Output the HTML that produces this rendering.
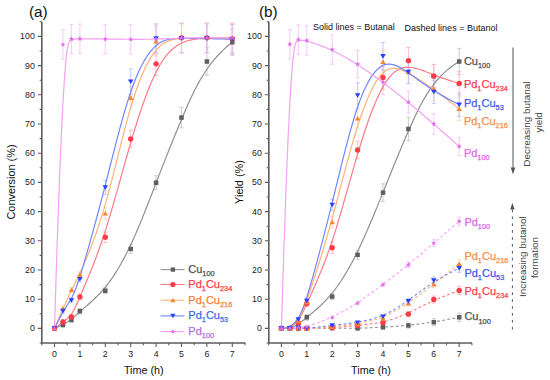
<!DOCTYPE html>
<html><head><meta charset="utf-8"><style>
html,body{margin:0;padding:0;background:#fff;width:550px;height:380px;overflow:hidden}
svg{display:block}
text{font-family:"Liberation Sans",sans-serif}
.tk{font-size:8.8px;fill:#222}
</style></head><body>
<svg width="550" height="380" viewBox="0 0 550 380">
<rect width="550" height="380" fill="#fff"/>
<path d="M41.80,21.80V343.00H245.40" stroke="#5c5c5c" stroke-width="1.6" fill="none"/>
<path d="M41.80,328.40h-4M41.80,299.20h-4M41.80,270.00h-4M41.80,240.80h-4M41.80,211.60h-4M41.80,182.40h-4M41.80,153.20h-4M41.80,124.00h-4M41.80,94.80h-4M41.80,65.60h-4M41.80,36.40h-4M41.80,343.00h-2.2M41.80,313.80h-2.2M41.80,284.60h-2.2M41.80,255.40h-2.2M41.80,226.20h-2.2M41.80,197.00h-2.2M41.80,167.80h-2.2M41.80,138.60h-2.2M41.80,109.40h-2.2M41.80,80.20h-2.2M41.80,51.00h-2.2M41.80,21.80h-2.2M54.50,343.00v4M79.90,343.00v4M105.30,343.00v4M130.70,343.00v4M156.10,343.00v4M181.50,343.00v4M206.90,343.00v4M232.30,343.00v4M41.80,343.00v2.2M67.20,343.00v2.2M92.60,343.00v2.2M118.00,343.00v2.2M143.40,343.00v2.2M168.80,343.00v2.2M194.20,343.00v2.2M219.60,343.00v2.2M245.00,343.00v2.2" stroke="#5c5c5c" stroke-width="1.1" fill="none"/>
<text x="34.80" y="331.30" class="tk" text-anchor="end">0</text>
<text x="34.80" y="302.10" class="tk" text-anchor="end">10</text>
<text x="34.80" y="272.90" class="tk" text-anchor="end">20</text>
<text x="34.80" y="243.70" class="tk" text-anchor="end">30</text>
<text x="34.80" y="214.50" class="tk" text-anchor="end">40</text>
<text x="34.80" y="185.30" class="tk" text-anchor="end">50</text>
<text x="34.80" y="156.10" class="tk" text-anchor="end">60</text>
<text x="34.80" y="126.90" class="tk" text-anchor="end">70</text>
<text x="34.80" y="97.70" class="tk" text-anchor="end">80</text>
<text x="34.80" y="68.50" class="tk" text-anchor="end">90</text>
<text x="34.80" y="39.30" class="tk" text-anchor="end">100</text>
<text x="54.50" y="356.80" class="tk" text-anchor="middle">0</text>
<text x="79.90" y="356.80" class="tk" text-anchor="middle">1</text>
<text x="105.30" y="356.80" class="tk" text-anchor="middle">2</text>
<text x="130.70" y="356.80" class="tk" text-anchor="middle">3</text>
<text x="156.10" y="356.80" class="tk" text-anchor="middle">4</text>
<text x="181.50" y="356.80" class="tk" text-anchor="middle">5</text>
<text x="206.90" y="356.80" class="tk" text-anchor="middle">6</text>
<text x="232.30" y="356.80" class="tk" text-anchor="middle">7</text>

<path d="M62.97,322.56V327.23M60.87,322.56h4.20M60.87,327.23h4.20" stroke="#c0c0c0" stroke-width="0.8" fill="none"/>
<path d="M71.43,317.60V322.27M69.33,317.60h4.20M69.33,322.27h4.20" stroke="#c0c0c0" stroke-width="0.8" fill="none"/>
<path d="M79.90,308.25V314.09M77.80,308.25h4.20M77.80,314.09h4.20" stroke="#c0c0c0" stroke-width="0.8" fill="none"/>
<path d="M105.30,287.81V293.65M103.20,287.81h4.20M103.20,293.65h4.20" stroke="#c0c0c0" stroke-width="0.8" fill="none"/>
<path d="M130.70,244.60V253.36M128.60,244.60h4.20M128.60,253.36h4.20" stroke="#c0c0c0" stroke-width="0.8" fill="none"/>
<path d="M156.10,175.68V189.70M154.00,175.68h4.20M154.00,189.70h4.20" stroke="#c0c0c0" stroke-width="0.8" fill="none"/>
<path d="M181.50,107.36V127.80M179.40,107.36h4.20M179.40,127.80h4.20" stroke="#c0c0c0" stroke-width="0.8" fill="none"/>
<path d="M206.90,47.79V75.24M204.80,47.79h4.20M204.80,75.24h4.20" stroke="#c0c0c0" stroke-width="0.8" fill="none"/>
<path d="M232.30,29.10V55.38M230.20,29.10h4.20M230.20,55.38h4.20" stroke="#c0c0c0" stroke-width="0.8" fill="none"/>

<path d="M62.97,319.64V324.31M60.87,319.64h4.20M60.87,324.31h4.20" stroke="#ffb0b8" stroke-width="0.8" fill="none"/>
<path d="M71.43,314.68V319.35M69.33,314.68h4.20M69.33,319.35h4.20" stroke="#ffb0b8" stroke-width="0.8" fill="none"/>
<path d="M79.90,293.94V299.78M77.80,293.94h4.20M77.80,299.78h4.20" stroke="#ffb0b8" stroke-width="0.8" fill="none"/>
<path d="M105.30,232.04V242.55M103.20,232.04h4.20M103.20,242.55h4.20" stroke="#ffb0b8" stroke-width="0.8" fill="none"/>
<path d="M130.70,130.13V147.65M128.60,130.13h4.20M128.60,147.65h4.20" stroke="#ffb0b8" stroke-width="0.8" fill="none"/>
<path d="M156.10,52.17V75.53M154.00,52.17h4.20M154.00,75.53h4.20" stroke="#ffb0b8" stroke-width="0.8" fill="none"/>
<path d="M181.50,23.26V52.46M179.40,23.26h4.20M179.40,52.46h4.20" stroke="#ffb0b8" stroke-width="0.8" fill="none"/>
<path d="M206.90,23.26V52.46M204.80,23.26h4.20M204.80,52.46h4.20" stroke="#ffb0b8" stroke-width="0.8" fill="none"/>
<path d="M232.30,24.14V53.34M230.20,24.14h4.20M230.20,53.34h4.20" stroke="#ffb0b8" stroke-width="0.8" fill="none"/>

<path d="M62.97,306.21V310.88M60.87,306.21h4.20M60.87,310.88h4.20" stroke="#ffcfae" stroke-width="0.8" fill="none"/>
<path d="M71.43,287.52V292.19M69.33,287.52h4.20M69.33,292.19h4.20" stroke="#ffcfae" stroke-width="0.8" fill="none"/>
<path d="M79.90,271.75V277.59M77.80,271.75h4.20M77.80,277.59h4.20" stroke="#ffcfae" stroke-width="0.8" fill="none"/>
<path d="M105.30,207.80V218.90M103.20,207.80h4.20M103.20,218.90h4.20" stroke="#ffcfae" stroke-width="0.8" fill="none"/>
<path d="M130.70,86.62V108.82M128.60,86.62h4.20M128.60,108.82h4.20" stroke="#ffcfae" stroke-width="0.8" fill="none"/>
<path d="M156.10,26.76V55.96M154.00,26.76h4.20M154.00,55.96h4.20" stroke="#ffcfae" stroke-width="0.8" fill="none"/>
<path d="M181.50,23.26V52.46M179.40,23.26h4.20M179.40,52.46h4.20" stroke="#ffcfae" stroke-width="0.8" fill="none"/>
<path d="M206.90,23.26V52.46M204.80,23.26h4.20M204.80,52.46h4.20" stroke="#ffcfae" stroke-width="0.8" fill="none"/>
<path d="M232.30,23.26V52.46M230.20,23.26h4.20M230.20,52.46h4.20" stroke="#ffcfae" stroke-width="0.8" fill="none"/>

<path d="M62.97,308.54V313.22M60.87,308.54h4.20M60.87,313.22h4.20" stroke="#b0bcff" stroke-width="0.8" fill="none"/>
<path d="M71.43,298.03V302.70M69.33,298.03h4.20M69.33,302.70h4.20" stroke="#b0bcff" stroke-width="0.8" fill="none"/>
<path d="M79.90,276.13V281.97M77.80,276.13h4.20M77.80,281.97h4.20" stroke="#b0bcff" stroke-width="0.8" fill="none"/>
<path d="M105.30,180.36V194.37M103.20,180.36h4.20M103.20,194.37h4.20" stroke="#b0bcff" stroke-width="0.8" fill="none"/>
<path d="M130.70,68.81V94.51M128.60,68.81h4.20M128.60,94.51h4.20" stroke="#b0bcff" stroke-width="0.8" fill="none"/>
<path d="M156.10,23.84V53.04M154.00,23.84h4.20M154.00,53.04h4.20" stroke="#b0bcff" stroke-width="0.8" fill="none"/>
<path d="M181.50,23.84V53.04M179.40,23.84h4.20M179.40,53.04h4.20" stroke="#b0bcff" stroke-width="0.8" fill="none"/>
<path d="M206.90,23.84V53.04M204.80,23.84h4.20M204.80,53.04h4.20" stroke="#b0bcff" stroke-width="0.8" fill="none"/>
<path d="M232.30,24.72V53.92M230.20,24.72h4.20M230.20,53.92h4.20" stroke="#b0bcff" stroke-width="0.8" fill="none"/>

<path d="M62.97,29.98V59.18M60.87,29.98h4.20M60.87,59.18h4.20" stroke="#f5bcf8" stroke-width="0.8" fill="none"/>
<path d="M71.43,24.43V53.63M69.33,24.43h4.20M69.33,53.63h4.20" stroke="#f5bcf8" stroke-width="0.8" fill="none"/>
<path d="M79.90,24.14V53.34M77.80,24.14h4.20M77.80,53.34h4.20" stroke="#f5bcf8" stroke-width="0.8" fill="none"/>
<path d="M105.30,24.43V53.63M103.20,24.43h4.20M103.20,53.63h4.20" stroke="#f5bcf8" stroke-width="0.8" fill="none"/>
<path d="M130.70,24.72V53.92M128.60,24.72h4.20M128.60,53.92h4.20" stroke="#f5bcf8" stroke-width="0.8" fill="none"/>
<path d="M156.10,24.72V53.92M154.00,24.72h4.20M154.00,53.92h4.20" stroke="#f5bcf8" stroke-width="0.8" fill="none"/>
<path d="M181.50,23.26V52.46M179.40,23.26h4.20M179.40,52.46h4.20" stroke="#f5bcf8" stroke-width="0.8" fill="none"/>
<path d="M206.90,23.26V52.46M204.80,23.26h4.20M204.80,52.46h4.20" stroke="#f5bcf8" stroke-width="0.8" fill="none"/>
<path d="M232.30,23.26V52.46M230.20,23.26h4.20M230.20,52.46h4.20" stroke="#f5bcf8" stroke-width="0.8" fill="none"/>
<path d="M54.50,328.40 L56.08,327.74 L57.56,327.10 L58.95,326.48 L60.25,325.88 L61.46,325.30 L62.60,324.73 L63.67,324.18 L64.68,323.64 L65.62,323.11 L66.51,322.58 L67.35,322.07 L68.15,321.55 L68.91,321.04 L69.63,320.53 L70.34,320.01 L71.02,319.49 L71.68,318.96 L72.34,318.43 L72.99,317.88 L73.65,317.32 L74.31,316.74 L74.98,316.13 L75.68,315.51 L76.40,314.86 L77.14,314.18 L77.93,313.47 L78.75,312.73 L79.62,311.95 L80.54,311.13 L81.52,310.27 L82.57,309.36 L83.68,308.40 L84.86,307.40 L86.10,306.34 L87.39,305.23 L88.74,304.05 L90.14,302.82 L91.58,301.53 L93.06,300.17 L94.57,298.74 L96.12,297.24 L97.69,295.66 L99.28,294.01 L100.89,292.28 L102.51,290.48 L104.14,288.58 L105.77,286.61 L107.40,284.54 L109.03,282.38 L110.66,280.14 L112.29,277.80 L113.92,275.37 L115.55,272.85 L117.18,270.24 L118.82,267.53 L120.45,264.73 L122.08,261.83 L123.71,258.84 L125.34,255.75 L126.97,252.55 L128.60,249.27 L130.23,245.88 L131.87,242.38 L133.50,238.80 L135.13,235.12 L136.76,231.36 L138.39,227.53 L140.02,223.62 L141.65,219.66 L143.28,215.64 L144.91,211.57 L146.55,207.45 L148.18,203.31 L149.81,199.13 L151.44,194.93 L153.07,190.72 L154.70,186.50 L156.33,182.28 L157.97,178.07 L159.60,173.85 L161.24,169.62 L162.90,165.38 L164.57,161.13 L166.25,156.85 L167.96,152.55 L169.69,148.21 L171.44,143.83 L173.23,139.41 L175.05,134.94 L176.91,130.42 L178.81,125.83 L180.76,121.18 L182.75,116.46 L184.79,111.66 L186.90,106.80 L189.08,101.89 L191.36,96.95 L193.75,91.99 L196.27,87.05 L198.94,82.13 L201.77,77.26 L204.78,72.46 L207.99,67.74 L211.41,63.12 L215.06,58.62 L218.96,54.27 L223.12,50.07 L227.56,46.06 L232.30,42.24" stroke="#909090" stroke-width="1.2" fill="none"/>
<path d="M54.50,328.40 L56.08,327.21 L57.56,326.11 L58.95,325.08 L60.25,324.13 L61.46,323.23 L62.60,322.38 L63.67,321.58 L64.68,320.80 L65.62,320.04 L66.51,319.30 L67.35,318.55 L68.15,317.80 L68.91,317.03 L69.63,316.23 L70.34,315.39 L71.02,314.51 L71.68,313.57 L72.34,312.57 L72.99,311.50 L73.65,310.35 L74.31,309.12 L74.98,307.80 L75.68,306.38 L76.40,304.86 L77.14,303.22 L77.93,301.47 L78.75,299.59 L79.62,297.57 L80.54,295.42 L81.52,293.11 L82.57,290.66 L83.68,288.04 L84.86,285.26 L86.10,282.32 L87.39,279.21 L88.74,275.95 L90.14,272.52 L91.58,268.93 L93.06,265.18 L94.57,261.26 L96.12,257.19 L97.69,252.95 L99.28,248.56 L100.89,244.00 L102.51,239.28 L104.14,234.41 L105.77,229.37 L107.40,224.18 L109.03,218.84 L110.66,213.39 L112.29,207.83 L113.92,202.18 L115.55,196.46 L117.18,190.68 L118.82,184.86 L120.45,179.01 L122.08,173.16 L123.71,167.32 L125.34,161.51 L126.97,155.73 L128.60,150.02 L130.23,144.38 L131.87,138.83 L133.50,133.39 L135.13,128.05 L136.76,122.82 L138.39,117.72 L140.02,112.74 L141.65,107.91 L143.28,103.21 L144.91,98.66 L146.55,94.27 L148.18,90.04 L149.81,85.98 L151.44,82.09 L153.07,78.39 L154.70,74.88 L156.33,71.56 L157.97,68.45 L159.60,65.53 L161.24,62.80 L162.90,60.25 L164.57,57.88 L166.25,55.68 L167.96,53.64 L169.69,51.77 L171.44,50.04 L173.23,48.46 L175.05,47.03 L176.91,45.72 L178.81,44.55 L180.76,43.50 L182.75,42.56 L184.79,41.73 L186.90,41.01 L189.08,40.38 L191.36,39.85 L193.75,39.41 L196.27,39.05 L198.94,38.76 L201.77,38.55 L204.78,38.40 L207.99,38.31 L211.41,38.28 L215.06,38.29 L218.96,38.35 L223.12,38.45 L227.56,38.58 L232.30,38.74" stroke="#ff7a88" stroke-width="1.2" fill="none"/>
<path d="M54.50,328.40 L56.08,324.70 L57.56,321.25 L58.95,318.03 L60.25,315.04 L61.46,312.25 L62.60,309.65 L63.67,307.23 L64.68,304.99 L65.62,302.89 L66.51,300.93 L67.35,299.11 L68.15,297.39 L68.91,295.78 L69.63,294.25 L70.34,292.80 L71.02,291.41 L71.68,290.06 L72.34,288.75 L72.99,287.45 L73.65,286.15 L74.31,284.83 L74.98,283.48 L75.68,282.08 L76.40,280.62 L77.14,279.09 L77.93,277.45 L78.75,275.71 L79.62,273.84 L80.54,271.84 L81.52,269.67 L82.57,267.33 L83.68,264.81 L84.86,262.09 L86.10,259.18 L87.39,256.07 L88.74,252.77 L90.14,249.26 L91.58,245.55 L93.06,241.63 L94.57,237.51 L96.12,233.18 L97.69,228.64 L99.28,223.88 L100.89,218.90 L102.51,213.71 L104.14,208.30 L105.77,202.67 L107.40,196.82 L109.03,190.79 L110.66,184.60 L112.29,178.29 L113.92,171.88 L115.55,165.41 L117.18,158.90 L118.82,152.38 L120.45,145.90 L122.08,139.46 L123.71,133.12 L125.34,126.89 L126.97,120.80 L128.60,114.89 L130.23,109.19 L131.87,103.72 L133.50,98.49 L135.13,93.50 L136.76,88.76 L138.39,84.25 L140.02,79.98 L141.65,75.94 L143.28,72.14 L144.91,68.57 L146.55,65.23 L148.18,62.11 L149.81,59.22 L151.44,56.56 L153.07,54.12 L154.70,51.90 L156.33,49.90 L157.97,48.12 L159.60,46.53 L161.24,45.14 L162.90,43.93 L164.57,42.87 L166.25,41.97 L167.96,41.21 L169.69,40.57 L171.44,40.04 L173.23,39.62 L175.05,39.27 L176.91,39.00 L178.81,38.79 L180.76,38.63 L182.75,38.49 L184.79,38.38 L186.90,38.28 L189.08,38.20 L191.36,38.13 L193.75,38.07 L196.27,38.01 L198.94,37.97 L201.77,37.94 L204.78,37.91 L207.99,37.89 L211.41,37.88 L215.06,37.87 L218.96,37.86 L223.12,37.86 L227.56,37.86 L232.30,37.86" stroke="#ffb27a" stroke-width="1.2" fill="none"/>
<path d="M54.50,328.40 L56.08,325.17 L57.56,322.23 L58.95,319.55 L60.25,317.10 L61.46,314.88 L62.60,312.86 L63.67,311.01 L64.68,309.32 L65.62,307.77 L66.51,306.33 L67.35,304.98 L68.15,303.71 L68.91,302.49 L69.63,301.30 L70.34,300.12 L71.02,298.93 L71.68,297.71 L72.34,296.44 L72.99,295.11 L73.65,293.70 L74.31,292.18 L74.98,290.56 L75.68,288.79 L76.40,286.88 L77.14,284.80 L77.93,282.54 L78.75,280.07 L79.62,277.38 L80.54,274.46 L81.52,271.29 L82.57,267.84 L83.68,264.11 L84.86,260.10 L86.10,255.83 L87.39,251.31 L88.74,246.56 L90.14,241.59 L91.58,236.42 L93.06,231.06 L94.57,225.53 L96.12,219.84 L97.69,214.01 L99.28,208.04 L100.89,201.97 L102.51,195.80 L104.14,189.54 L105.77,183.21 L107.40,176.84 L109.03,170.43 L110.66,164.01 L112.29,157.60 L113.92,151.22 L115.55,144.88 L117.18,138.62 L118.82,132.45 L120.45,126.38 L122.08,120.45 L123.71,114.67 L125.34,109.06 L126.97,103.64 L128.60,98.43 L130.23,93.45 L131.87,88.72 L133.50,84.25 L135.13,80.03 L136.76,76.05 L138.39,72.31 L140.02,68.80 L141.65,65.52 L143.28,62.46 L144.91,59.63 L146.55,57.00 L148.18,54.59 L149.81,52.37 L151.44,50.36 L153.07,48.54 L154.70,46.90 L156.33,45.45 L157.97,44.17 L159.60,43.06 L161.24,42.11 L162.90,41.29 L164.57,40.61 L166.25,40.04 L167.96,39.59 L169.69,39.23 L171.44,38.95 L173.23,38.75 L175.05,38.61 L176.91,38.52 L178.81,38.47 L180.76,38.45 L182.75,38.44 L184.79,38.44 L186.90,38.44 L189.08,38.45 L191.36,38.45 L193.75,38.47 L196.27,38.48 L198.94,38.51 L201.77,38.54 L204.78,38.59 L207.99,38.65 L211.41,38.72 L215.06,38.80 L218.96,38.90 L223.12,39.02 L227.56,39.16 L232.30,39.32" stroke="#7186ff" stroke-width="1.2" fill="none"/>
<path d="M54.50,328.40 L56.08,277.12 L57.56,232.35 L58.95,193.65 L60.25,160.57 L61.46,132.66 L62.60,109.49 L63.67,90.61 L64.68,75.57 L65.62,63.92 L66.51,55.23 L67.35,49.05 L68.15,44.94 L68.91,42.45 L69.63,41.13 L70.34,40.54 L71.02,40.25 L71.68,40.00 L72.34,39.79 L72.99,39.60 L73.65,39.44 L74.31,39.30 L74.98,39.19 L75.68,39.09 L76.40,39.01 L77.14,38.95 L77.93,38.91 L78.75,38.88 L79.62,38.86 L80.54,38.84 L81.52,38.84 L82.57,38.83 L83.68,38.83 L84.86,38.84 L86.10,38.84 L87.39,38.85 L88.74,38.86 L90.14,38.87 L91.58,38.88 L93.06,38.90 L94.57,38.91 L96.12,38.93 L97.69,38.94 L99.28,38.96 L100.89,38.98 L102.51,39.00 L104.14,39.01 L105.77,39.03 L107.40,39.05 L109.03,39.07 L110.66,39.09 L112.29,39.11 L113.92,39.13 L115.55,39.14 L117.18,39.16 L118.82,39.18 L120.45,39.19 L122.08,39.21 L123.71,39.22 L125.34,39.23 L126.97,39.25 L128.60,39.26 L130.23,39.27 L131.87,39.28 L133.50,39.29 L135.13,39.29 L136.76,39.30 L138.39,39.30 L140.02,39.30 L141.65,39.29 L143.28,39.28 L144.91,39.27 L146.55,39.26 L148.18,39.24 L149.81,39.22 L151.44,39.19 L153.07,39.15 L154.70,39.11 L156.33,39.07 L157.97,39.02 L159.60,38.96 L161.24,38.90 L162.90,38.84 L164.57,38.77 L166.25,38.70 L167.96,38.64 L169.69,38.56 L171.44,38.49 L173.23,38.43 L175.05,38.36 L176.91,38.29 L178.81,38.23 L180.76,38.18 L182.75,38.12 L184.79,38.08 L186.90,38.04 L189.08,38.00 L191.36,37.97 L193.75,37.95 L196.27,37.92 L198.94,37.91 L201.77,37.89 L204.78,37.88 L207.99,37.87 L211.41,37.87 L215.06,37.86 L218.96,37.86 L223.12,37.86 L227.56,37.86 L232.30,37.86" stroke="#f4a0f6" stroke-width="1.2" fill="none"/>
<rect x="52.25" y="326.15" width="4.50" height="4.50" fill="#5e5e5e"/>
<rect x="60.72" y="322.65" width="4.50" height="4.50" fill="#5e5e5e"/>
<rect x="69.18" y="317.68" width="4.50" height="4.50" fill="#5e5e5e"/>
<rect x="77.65" y="308.92" width="4.50" height="4.50" fill="#5e5e5e"/>
<rect x="103.05" y="288.48" width="4.50" height="4.50" fill="#5e5e5e"/>
<rect x="128.45" y="246.73" width="4.50" height="4.50" fill="#5e5e5e"/>
<rect x="153.85" y="180.44" width="4.50" height="4.50" fill="#5e5e5e"/>
<rect x="179.25" y="115.33" width="4.50" height="4.50" fill="#5e5e5e"/>
<rect x="204.65" y="59.26" width="4.50" height="4.50" fill="#5e5e5e"/>
<rect x="230.05" y="39.99" width="4.50" height="4.50" fill="#5e5e5e"/>
<circle cx="54.50" cy="328.40" r="2.70" fill="#ff3b48"/>
<circle cx="62.97" cy="321.98" r="2.70" fill="#ff3b48"/>
<circle cx="71.43" cy="317.01" r="2.70" fill="#ff3b48"/>
<circle cx="79.90" cy="296.86" r="2.70" fill="#ff3b48"/>
<circle cx="105.30" cy="237.30" r="2.70" fill="#ff3b48"/>
<circle cx="130.70" cy="138.89" r="2.70" fill="#ff3b48"/>
<circle cx="156.10" cy="63.85" r="2.70" fill="#ff3b48"/>
<circle cx="181.50" cy="37.86" r="2.70" fill="#ff3b48"/>
<circle cx="206.90" cy="37.86" r="2.70" fill="#ff3b48"/>
<circle cx="232.30" cy="38.74" r="2.70" fill="#ff3b48"/>
<path d="M54.50,326.00 L57.30,330.56 L51.70,330.56Z" fill="#f7872e"/>
<path d="M62.97,306.14 L65.77,310.70 L60.17,310.70Z" fill="#f7872e"/>
<path d="M71.43,287.46 L74.23,292.02 L68.63,292.02Z" fill="#f7872e"/>
<path d="M79.90,272.27 L82.70,276.83 L77.10,276.83Z" fill="#f7872e"/>
<path d="M105.30,210.95 L108.10,215.51 L102.50,215.51Z" fill="#f7872e"/>
<path d="M130.70,95.32 L133.50,99.88 L127.90,99.88Z" fill="#f7872e"/>
<path d="M156.10,38.96 L158.90,43.52 L153.30,43.52Z" fill="#f7872e"/>
<path d="M181.50,35.46 L184.30,40.02 L178.70,40.02Z" fill="#f7872e"/>
<path d="M206.90,35.46 L209.70,40.02 L204.10,40.02Z" fill="#f7872e"/>
<path d="M232.30,35.46 L235.10,40.02 L229.50,40.02Z" fill="#f7872e"/>
<path d="M54.50,330.80 L57.30,326.24 L51.70,326.24Z" fill="#2a40fa"/>
<path d="M62.97,313.28 L65.77,308.72 L60.17,308.72Z" fill="#2a40fa"/>
<path d="M71.43,302.77 L74.23,298.21 L68.63,298.21Z" fill="#2a40fa"/>
<path d="M79.90,281.45 L82.70,276.89 L77.10,276.89Z" fill="#2a40fa"/>
<path d="M105.30,189.76 L108.10,185.20 L102.50,185.20Z" fill="#2a40fa"/>
<path d="M130.70,84.06 L133.50,79.50 L127.90,79.50Z" fill="#2a40fa"/>
<path d="M156.10,40.84 L158.90,36.28 L153.30,36.28Z" fill="#2a40fa"/>
<path d="M181.50,40.84 L184.30,36.28 L178.70,36.28Z" fill="#2a40fa"/>
<path d="M206.90,40.84 L209.70,36.28 L204.10,36.28Z" fill="#2a40fa"/>
<path d="M232.30,41.72 L235.10,37.16 L229.50,37.16Z" fill="#2a40fa"/>
<polygon points="54.50,325.70 55.18,327.47 57.07,327.57 55.59,328.76 56.09,330.58 54.50,329.55 52.91,330.58 53.41,328.76 51.93,327.57 53.82,327.47" fill="#e468f0"/>
<polygon points="62.97,41.88 63.64,43.65 65.53,43.74 64.06,44.93 64.55,46.76 62.97,45.73 61.38,46.76 61.87,44.93 60.40,43.74 62.29,43.65" fill="#e468f0"/>
<polygon points="71.43,36.33 72.11,38.10 74.00,38.19 72.53,39.38 73.02,41.21 71.43,40.18 69.85,41.21 70.34,39.38 68.87,38.19 70.76,38.10" fill="#e468f0"/>
<polygon points="79.90,36.04 80.58,37.81 82.47,37.90 80.99,39.09 81.49,40.92 79.90,39.89 78.31,40.92 78.81,39.09 77.33,37.90 79.22,37.81" fill="#e468f0"/>
<polygon points="105.30,36.33 105.98,38.10 107.87,38.19 106.39,39.38 106.89,41.21 105.30,40.18 103.71,41.21 104.21,39.38 102.73,38.19 104.62,38.10" fill="#e468f0"/>
<polygon points="130.70,36.62 131.38,38.39 133.27,38.49 131.79,39.68 132.29,41.50 130.70,40.47 129.11,41.50 129.61,39.68 128.13,38.49 130.02,38.39" fill="#e468f0"/>
<polygon points="156.10,36.62 156.78,38.39 158.67,38.49 157.19,39.68 157.69,41.50 156.10,40.47 154.51,41.50 155.01,39.68 153.53,38.49 155.42,38.39" fill="#e468f0"/>
<polygon points="181.50,35.16 182.18,36.93 184.07,37.03 182.59,38.22 183.09,40.04 181.50,39.01 179.91,40.04 180.41,38.22 178.93,37.03 180.82,36.93" fill="#e468f0"/>
<polygon points="206.90,35.16 207.58,36.93 209.47,37.03 207.99,38.22 208.49,40.04 206.90,39.01 205.31,40.04 205.81,38.22 204.33,37.03 206.22,36.93" fill="#e468f0"/>
<polygon points="232.30,35.16 232.98,36.93 234.87,37.03 233.39,38.22 233.89,40.04 232.30,39.01 230.71,40.04 231.21,38.22 229.73,37.03 231.62,36.93" fill="#e468f0"/>
<path d="M160.6,269.60H184.5" stroke="#909090" stroke-width="1.1"/>
<rect x="170.76" y="267.46" width="4.27" height="4.27" fill="#5e5e5e"/>
<text x="188.30" y="272.90" fill="#505050" stroke="#505050" stroke-width="0.25" font-size="11"><tspan dy="0">Cu</tspan><tspan font-size="7.4" dy="3.2">100</tspan></text>
<path d="M160.6,284.50H184.5" stroke="#ff7a88" stroke-width="1.1"/>
<circle cx="172.90" cy="284.50" r="2.56" fill="#ff3b48"/>
<text x="188.30" y="287.80" fill="#ff3b48" stroke="#ff3b48" stroke-width="0.25" font-size="11"><tspan dy="0">Pd</tspan><tspan font-size="7.4" dy="3.2">1</tspan><tspan dy="-3.2">Cu</tspan><tspan font-size="7.4" dy="3.2">234</tspan></text>
<path d="M160.6,300.20H184.5" stroke="#ffb27a" stroke-width="1.1"/>
<path d="M172.90,297.92 L175.56,302.25 L170.24,302.25Z" fill="#f7872e"/>
<text x="188.30" y="303.50" fill="#f5803a" stroke="#f5803a" stroke-width="0.25" font-size="11"><tspan dy="0">Pd</tspan><tspan font-size="7.4" dy="3.2">1</tspan><tspan dy="-3.2">Cu</tspan><tspan font-size="7.4" dy="3.2">216</tspan></text>
<path d="M160.6,315.90H184.5" stroke="#7186ff" stroke-width="1.1"/>
<path d="M172.90,318.18 L175.56,313.85 L170.24,313.85Z" fill="#2a40fa"/>
<text x="188.30" y="319.20" fill="#3a6ee8" stroke="#3a6ee8" stroke-width="0.25" font-size="11"><tspan dy="0">Pd</tspan><tspan font-size="7.4" dy="3.2">1</tspan><tspan dy="-3.2">Cu</tspan><tspan font-size="7.4" dy="3.2">53</tspan></text>
<path d="M160.6,331.60H184.5" stroke="#f4a0f6" stroke-width="1.1"/>
<polygon points="172.90,329.04 173.54,330.72 175.34,330.81 173.94,331.94 174.41,333.68 172.90,332.69 171.39,333.68 171.86,331.94 170.46,330.81 172.26,330.72" fill="#e468f0"/>
<text x="188.30" y="334.90" fill="#b46edc" stroke="#b46edc" stroke-width="0.25" font-size="11"><tspan dy="0">Pd</tspan><tspan font-size="7.4" dy="3.2">100</tspan></text>
<path d="M268.80,21.80V343.00H472.00" stroke="#5c5c5c" stroke-width="1.6" fill="none"/>
<path d="M268.80,328.40h-4M268.80,299.20h-4M268.80,270.00h-4M268.80,240.80h-4M268.80,211.60h-4M268.80,182.40h-4M268.80,153.20h-4M268.80,124.00h-4M268.80,94.80h-4M268.80,65.60h-4M268.80,36.40h-4M268.80,343.00h-2.2M268.80,313.80h-2.2M268.80,284.60h-2.2M268.80,255.40h-2.2M268.80,226.20h-2.2M268.80,197.00h-2.2M268.80,167.80h-2.2M268.80,138.60h-2.2M268.80,109.40h-2.2M268.80,80.20h-2.2M268.80,51.00h-2.2M268.80,21.80h-2.2M281.40,343.00v4M306.80,343.00v4M332.20,343.00v4M357.60,343.00v4M383.00,343.00v4M408.40,343.00v4M433.80,343.00v4M459.20,343.00v4M268.70,343.00v2.2M294.10,343.00v2.2M319.50,343.00v2.2M344.90,343.00v2.2M370.30,343.00v2.2M395.70,343.00v2.2M421.10,343.00v2.2M446.50,343.00v2.2M471.90,343.00v2.2" stroke="#5c5c5c" stroke-width="1.1" fill="none"/>
<text x="261.80" y="331.30" class="tk" text-anchor="end">0</text>
<text x="261.80" y="302.10" class="tk" text-anchor="end">10</text>
<text x="261.80" y="272.90" class="tk" text-anchor="end">20</text>
<text x="261.80" y="243.70" class="tk" text-anchor="end">30</text>
<text x="261.80" y="214.50" class="tk" text-anchor="end">40</text>
<text x="261.80" y="185.30" class="tk" text-anchor="end">50</text>
<text x="261.80" y="156.10" class="tk" text-anchor="end">60</text>
<text x="261.80" y="126.90" class="tk" text-anchor="end">70</text>
<text x="261.80" y="97.70" class="tk" text-anchor="end">80</text>
<text x="261.80" y="68.50" class="tk" text-anchor="end">90</text>
<text x="261.80" y="39.30" class="tk" text-anchor="end">100</text>
<text x="281.40" y="356.80" class="tk" text-anchor="middle">0</text>
<text x="306.80" y="356.80" class="tk" text-anchor="middle">1</text>
<text x="332.20" y="356.80" class="tk" text-anchor="middle">2</text>
<text x="357.60" y="356.80" class="tk" text-anchor="middle">3</text>
<text x="383.00" y="356.80" class="tk" text-anchor="middle">4</text>
<text x="408.40" y="356.80" class="tk" text-anchor="middle">5</text>
<text x="433.80" y="356.80" class="tk" text-anchor="middle">6</text>
<text x="459.20" y="356.80" class="tk" text-anchor="middle">7</text>






<path d="M383.00,325.48V328.98M380.90,325.48h4.20M380.90,328.98h4.20" stroke="#c0c0c0" stroke-width="0.8" fill="none"/>
<path d="M408.40,322.85V328.11M406.30,322.85h4.20M406.30,328.11h4.20" stroke="#c0c0c0" stroke-width="0.8" fill="none"/>
<path d="M433.80,318.76V325.77M431.70,318.76h4.20M431.70,325.77h4.20" stroke="#c0c0c0" stroke-width="0.8" fill="none"/>
<path d="M459.20,313.22V321.39M457.10,313.22h4.20M457.10,321.39h4.20" stroke="#c0c0c0" stroke-width="0.8" fill="none"/>






<path d="M383.00,321.10V324.60M380.90,321.10h4.20M380.90,324.60h4.20" stroke="#ffb0b8" stroke-width="0.8" fill="none"/>
<path d="M408.40,311.46V316.72M406.30,311.46h4.20M406.30,316.72h4.20" stroke="#ffb0b8" stroke-width="0.8" fill="none"/>
<path d="M433.80,295.99V303.00M431.70,295.99h4.20M431.70,303.00h4.20" stroke="#ffb0b8" stroke-width="0.8" fill="none"/>
<path d="M459.20,286.35V294.53M457.10,286.35h4.20M457.10,294.53h4.20" stroke="#ffb0b8" stroke-width="0.8" fill="none"/>






<path d="M383.00,316.72V320.22M380.90,316.72h4.20M380.90,320.22h4.20" stroke="#ffcfae" stroke-width="0.8" fill="none"/>
<path d="M408.40,300.66V305.92M406.30,300.66h4.20M406.30,305.92h4.20" stroke="#ffcfae" stroke-width="0.8" fill="none"/>
<path d="M433.80,280.80V287.81M431.70,280.80h4.20M431.70,287.81h4.20" stroke="#ffcfae" stroke-width="0.8" fill="none"/>
<path d="M459.20,259.78V267.96M457.10,259.78h4.20M457.10,267.96h4.20" stroke="#ffcfae" stroke-width="0.8" fill="none"/>






<path d="M383.00,314.97V318.47M380.90,314.97h4.20M380.90,318.47h4.20" stroke="#b0bcff" stroke-width="0.8" fill="none"/>
<path d="M408.40,298.62V303.87M406.30,298.62h4.20M406.30,303.87h4.20" stroke="#b0bcff" stroke-width="0.8" fill="none"/>
<path d="M433.80,277.01V284.02M431.70,277.01h4.20M431.70,284.02h4.20" stroke="#b0bcff" stroke-width="0.8" fill="none"/>
<path d="M459.20,264.16V272.34M457.10,264.16h4.20M457.10,272.34h4.20" stroke="#b0bcff" stroke-width="0.8" fill="none"/>






<path d="M383.00,282.85V286.35M380.90,282.85h4.20M380.90,286.35h4.20" stroke="#f5bcf8" stroke-width="0.8" fill="none"/>
<path d="M408.40,262.12V267.37M406.30,262.12h4.20M406.30,267.37h4.20" stroke="#f5bcf8" stroke-width="0.8" fill="none"/>
<path d="M433.80,239.63V246.64M431.70,239.63h4.20M431.70,246.64h4.20" stroke="#f5bcf8" stroke-width="0.8" fill="none"/>
<path d="M459.20,217.15V225.32M457.10,217.15h4.20M457.10,225.32h4.20" stroke="#f5bcf8" stroke-width="0.8" fill="none"/>


<path d="M298.33,323.14V326.06M296.23,323.14h4.20M296.23,326.06h4.20" stroke="#c0c0c0" stroke-width="0.8" fill="none"/>
<path d="M306.80,314.38V320.22M304.70,314.38h4.20M304.70,320.22h4.20" stroke="#c0c0c0" stroke-width="0.8" fill="none"/>
<path d="M332.20,293.65V299.49M330.10,293.65h4.20M330.10,299.49h4.20" stroke="#c0c0c0" stroke-width="0.8" fill="none"/>
<path d="M357.60,250.44V259.20M355.50,250.44h4.20M355.50,259.20h4.20" stroke="#c0c0c0" stroke-width="0.8" fill="none"/>
<path d="M383.00,183.86V201.38M380.90,183.86h4.20M380.90,201.38h4.20" stroke="#c0c0c0" stroke-width="0.8" fill="none"/>
<path d="M408.40,117.28V140.64M406.30,117.28h4.20M406.30,140.64h4.20" stroke="#c0c0c0" stroke-width="0.8" fill="none"/>
<path d="M433.80,64.43V87.79M431.70,64.43h4.20M431.70,87.79h4.20" stroke="#c0c0c0" stroke-width="0.8" fill="none"/>
<path d="M459.20,48.37V74.65M457.10,48.37h4.20M457.10,74.65h4.20" stroke="#c0c0c0" stroke-width="0.8" fill="none"/>


<path d="M298.33,321.39V324.31M296.23,321.39h4.20M296.23,324.31h4.20" stroke="#ffb0b8" stroke-width="0.8" fill="none"/>
<path d="M306.80,300.66V306.50M304.70,300.66h4.20M304.70,306.50h4.20" stroke="#ffb0b8" stroke-width="0.8" fill="none"/>
<path d="M332.20,241.97V253.65M330.10,241.97h4.20M330.10,253.65h4.20" stroke="#ffb0b8" stroke-width="0.8" fill="none"/>
<path d="M357.60,141.23V158.75M355.50,141.23h4.20M355.50,158.75h4.20" stroke="#ffb0b8" stroke-width="0.8" fill="none"/>
<path d="M383.00,65.89V89.25M380.90,65.89h4.20M380.90,89.25h4.20" stroke="#ffb0b8" stroke-width="0.8" fill="none"/>
<path d="M408.40,47.50V73.78M406.30,47.50h4.20M406.30,73.78h4.20" stroke="#ffb0b8" stroke-width="0.8" fill="none"/>
<path d="M433.80,64.43V87.79M431.70,64.43h4.20M431.70,87.79h4.20" stroke="#ffb0b8" stroke-width="0.8" fill="none"/>
<path d="M459.20,71.73V95.09M457.10,71.73h4.20M457.10,95.09h4.20" stroke="#ffb0b8" stroke-width="0.8" fill="none"/>


<path d="M298.33,319.64V322.56M296.23,319.64h4.20M296.23,322.56h4.20" stroke="#ffcfae" stroke-width="0.8" fill="none"/>
<path d="M306.80,299.20V305.04M304.70,299.20h4.20M304.70,305.04h4.20" stroke="#ffcfae" stroke-width="0.8" fill="none"/>
<path d="M332.20,216.27V227.95M330.10,216.27h4.20M330.10,227.95h4.20" stroke="#ffcfae" stroke-width="0.8" fill="none"/>
<path d="M357.60,109.69V127.21M355.50,109.69h4.20M355.50,127.21h4.20" stroke="#ffcfae" stroke-width="0.8" fill="none"/>
<path d="M383.00,50.12V73.48M380.90,50.12h4.20M380.90,73.48h4.20" stroke="#ffcfae" stroke-width="0.8" fill="none"/>
<path d="M408.40,60.05V83.41M406.30,60.05h4.20M406.30,83.41h4.20" stroke="#ffcfae" stroke-width="0.8" fill="none"/>
<path d="M433.80,77.28V100.64M431.70,77.28h4.20M431.70,100.64h4.20" stroke="#ffcfae" stroke-width="0.8" fill="none"/>
<path d="M459.20,97.14V120.50M457.10,97.14h4.20M457.10,120.50h4.20" stroke="#ffcfae" stroke-width="0.8" fill="none"/>


<path d="M298.33,317.89V320.81M296.23,317.89h4.20M296.23,320.81h4.20" stroke="#b0bcff" stroke-width="0.8" fill="none"/>
<path d="M306.80,298.03V303.87M304.70,298.03h4.20M304.70,303.87h4.20" stroke="#b0bcff" stroke-width="0.8" fill="none"/>
<path d="M332.20,199.04V210.72M330.10,199.04h4.20M330.10,210.72h4.20" stroke="#b0bcff" stroke-width="0.8" fill="none"/>
<path d="M357.60,82.83V107.94M355.50,82.83h4.20M355.50,107.94h4.20" stroke="#b0bcff" stroke-width="0.8" fill="none"/>
<path d="M383.00,42.53V69.98M380.90,42.53h4.20M380.90,69.98h4.20" stroke="#b0bcff" stroke-width="0.8" fill="none"/>
<path d="M408.40,60.34V83.70M406.30,60.34h4.20M406.30,83.70h4.20" stroke="#b0bcff" stroke-width="0.8" fill="none"/>
<path d="M433.80,80.20V103.56M431.70,80.20h4.20M431.70,103.56h4.20" stroke="#b0bcff" stroke-width="0.8" fill="none"/>
<path d="M459.20,93.05V116.41M457.10,93.05h4.20M457.10,116.41h4.20" stroke="#b0bcff" stroke-width="0.8" fill="none"/>

<path d="M289.87,29.68V58.88M287.77,29.68h4.20M287.77,58.88h4.20" stroke="#f5bcf8" stroke-width="0.8" fill="none"/>
<path d="M298.33,25.01V54.21M296.23,25.01h4.20M296.23,54.21h4.20" stroke="#f5bcf8" stroke-width="0.8" fill="none"/>
<path d="M306.80,25.89V55.09M304.70,25.89h4.20M304.70,55.09h4.20" stroke="#f5bcf8" stroke-width="0.8" fill="none"/>
<path d="M332.20,34.94V64.14M330.10,34.94h4.20M330.10,64.14h4.20" stroke="#f5bcf8" stroke-width="0.8" fill="none"/>
<path d="M357.60,50.42V77.86M355.50,50.42h4.20M355.50,77.86h4.20" stroke="#f5bcf8" stroke-width="0.8" fill="none"/>
<path d="M383.00,69.98V94.51M380.90,69.98h4.20M380.90,94.51h4.20" stroke="#f5bcf8" stroke-width="0.8" fill="none"/>
<path d="M408.40,91.00V113.20M406.30,91.00h4.20M406.30,113.20h4.20" stroke="#f5bcf8" stroke-width="0.8" fill="none"/>
<path d="M433.80,113.78V134.22M431.70,113.78h4.20M431.70,134.22h4.20" stroke="#f5bcf8" stroke-width="0.8" fill="none"/>
<path d="M459.20,137.43V155.54M457.10,137.43h4.20M457.10,155.54h4.20" stroke="#f5bcf8" stroke-width="0.8" fill="none"/>
<path d="M281.40,328.40 L282.98,328.40 L284.46,328.40 L285.85,328.40 L287.15,328.40 L288.36,328.40 L289.50,328.40 L290.57,328.40 L291.58,328.40 L292.52,328.40 L293.41,328.40 L294.25,328.40 L295.05,328.40 L295.81,328.40 L296.53,328.40 L297.24,328.40 L297.92,328.40 L298.58,328.40 L299.24,328.40 L299.89,328.40 L300.55,328.40 L301.21,328.40 L301.88,328.40 L302.58,328.39 L303.30,328.39 L304.04,328.39 L304.83,328.39 L305.65,328.38 L306.52,328.38 L307.44,328.37 L308.42,328.36 L309.47,328.35 L310.58,328.34 L311.76,328.33 L313.00,328.32 L314.29,328.31 L315.64,328.30 L317.04,328.28 L318.48,328.27 L319.96,328.26 L321.47,328.25 L323.02,328.24 L324.59,328.23 L326.18,328.22 L327.79,328.21 L329.41,328.21 L331.04,328.21 L332.67,328.21 L334.30,328.21 L335.93,328.21 L337.56,328.22 L339.19,328.22 L340.82,328.23 L342.45,328.23 L344.08,328.23 L345.72,328.24 L347.35,328.24 L348.98,328.23 L350.61,328.23 L352.24,328.22 L353.87,328.21 L355.50,328.19 L357.13,328.16 L358.77,328.14 L360.40,328.10 L362.03,328.06 L363.66,328.01 L365.29,327.96 L366.92,327.90 L368.55,327.84 L370.18,327.78 L371.81,327.71 L373.45,327.63 L375.08,327.56 L376.71,327.48 L378.34,327.39 L379.97,327.30 L381.60,327.21 L383.23,327.12 L384.87,327.03 L386.50,326.93 L388.14,326.82 L389.80,326.72 L391.47,326.61 L393.15,326.49 L394.86,326.36 L396.59,326.23 L398.34,326.09 L400.13,325.95 L401.95,325.79 L403.81,325.62 L405.71,325.45 L407.66,325.26 L409.65,325.06 L411.69,324.85 L413.80,324.62 L415.98,324.37 L418.26,324.10 L420.65,323.80 L423.17,323.47 L425.84,323.10 L428.67,322.68 L431.68,322.22 L434.89,321.71 L438.31,321.14 L441.96,320.51 L445.86,319.82 L450.02,319.06 L454.46,318.22 L459.20,317.30" stroke="#909090" stroke-width="1.1" fill="none" stroke-dasharray="2.8 2.4"/>
<path d="M281.40,328.40 L282.98,328.40 L284.46,328.40 L285.85,328.40 L287.15,328.40 L288.36,328.40 L289.50,328.40 L290.57,328.40 L291.58,328.40 L292.52,328.40 L293.41,328.40 L294.25,328.40 L295.05,328.40 L295.81,328.40 L296.53,328.40 L297.24,328.40 L297.92,328.40 L298.58,328.40 L299.24,328.40 L299.89,328.40 L300.55,328.40 L301.21,328.40 L301.88,328.39 L302.58,328.39 L303.30,328.38 L304.04,328.38 L304.83,328.37 L305.65,328.36 L306.52,328.35 L307.44,328.34 L308.42,328.32 L309.47,328.31 L310.58,328.29 L311.76,328.26 L313.00,328.24 L314.29,328.21 L315.64,328.18 L317.04,328.14 L318.48,328.10 L319.96,328.06 L321.47,328.01 L323.02,327.95 L324.59,327.89 L326.18,327.83 L327.79,327.75 L329.41,327.67 L331.04,327.59 L332.67,327.50 L334.30,327.40 L335.93,327.29 L337.56,327.18 L339.19,327.06 L340.82,326.94 L342.45,326.81 L344.08,326.67 L345.72,326.54 L347.35,326.39 L348.98,326.25 L350.61,326.10 L352.24,325.95 L353.87,325.79 L355.50,325.64 L357.13,325.48 L358.77,325.32 L360.40,325.16 L362.03,324.99 L363.66,324.82 L365.29,324.64 L366.92,324.45 L368.55,324.26 L370.18,324.05 L371.81,323.83 L373.45,323.59 L375.08,323.34 L376.71,323.07 L378.34,322.78 L379.97,322.47 L381.60,322.13 L383.23,321.78 L384.87,321.40 L386.50,320.99 L388.14,320.55 L389.80,320.08 L391.47,319.57 L393.15,319.03 L394.86,318.46 L396.59,317.85 L398.34,317.19 L400.13,316.50 L401.95,315.76 L403.81,314.97 L405.71,314.14 L407.66,313.25 L409.65,312.32 L411.69,311.33 L413.80,310.29 L415.98,309.19 L418.26,308.05 L420.65,306.85 L423.17,305.60 L425.84,304.30 L428.67,302.94 L431.68,301.55 L434.89,300.10 L438.31,298.60 L441.96,297.06 L445.86,295.47 L450.02,293.84 L454.46,292.16 L459.20,290.44" stroke="#ff7a88" stroke-width="1.1" fill="none" stroke-dasharray="2.8 2.4"/>
<path d="M281.40,328.40 L282.98,328.40 L284.46,328.40 L285.85,328.40 L287.15,328.40 L288.36,328.40 L289.50,328.40 L290.57,328.40 L291.58,328.40 L292.52,328.40 L293.41,328.40 L294.25,328.40 L295.05,328.40 L295.81,328.40 L296.53,328.40 L297.24,328.40 L297.92,328.40 L298.58,328.40 L299.24,328.40 L299.89,328.40 L300.55,328.39 L301.21,328.39 L301.88,328.38 L302.58,328.37 L303.30,328.36 L304.04,328.35 L304.83,328.33 L305.65,328.30 L306.52,328.28 L307.44,328.24 L308.42,328.21 L309.47,328.16 L310.58,328.11 L311.76,328.06 L313.00,328.00 L314.29,327.93 L315.64,327.86 L317.04,327.78 L318.48,327.69 L319.96,327.60 L321.47,327.51 L323.02,327.40 L324.59,327.29 L326.18,327.18 L327.79,327.06 L329.41,326.93 L331.04,326.80 L332.67,326.66 L334.30,326.51 L335.93,326.36 L337.56,326.20 L339.19,326.03 L340.82,325.86 L342.45,325.68 L344.08,325.49 L345.72,325.30 L347.35,325.09 L348.98,324.88 L350.61,324.65 L352.24,324.42 L353.87,324.18 L355.50,323.92 L357.13,323.66 L358.77,323.38 L360.40,323.10 L362.03,322.80 L363.66,322.48 L365.29,322.15 L366.92,321.79 L368.55,321.42 L370.18,321.02 L371.81,320.60 L373.45,320.15 L375.08,319.67 L376.71,319.16 L378.34,318.61 L379.97,318.04 L381.60,317.42 L383.23,316.77 L384.87,316.08 L386.50,315.35 L388.14,314.57 L389.80,313.76 L391.47,312.89 L393.15,311.99 L394.86,311.04 L396.59,310.04 L398.34,309.00 L400.13,307.90 L401.95,306.76 L403.81,305.56 L405.71,304.32 L407.66,303.02 L409.65,301.67 L411.69,300.26 L413.80,298.79 L415.98,297.25 L418.26,295.61 L420.65,293.87 L423.17,292.01 L425.84,290.02 L428.67,287.89 L431.68,285.59 L434.89,283.12 L438.31,280.46 L441.96,277.60 L445.86,274.53 L450.02,271.22 L454.46,267.67 L459.20,263.87" stroke="#ffb27a" stroke-width="1.1" fill="none" stroke-dasharray="2.8 2.4"/>
<path d="M281.40,328.40 L282.98,328.40 L284.46,328.40 L285.85,328.40 L287.15,328.40 L288.36,328.40 L289.50,328.40 L290.57,328.40 L291.58,328.40 L292.52,328.40 L293.41,328.40 L294.25,328.40 L295.05,328.40 L295.81,328.40 L296.53,328.40 L297.24,328.40 L297.92,328.40 L298.58,328.40 L299.24,328.40 L299.89,328.39 L300.55,328.39 L301.21,328.38 L301.88,328.37 L302.58,328.35 L303.30,328.32 L304.04,328.29 L304.83,328.25 L305.65,328.21 L306.52,328.15 L307.44,328.09 L308.42,328.01 L309.47,327.93 L310.58,327.83 L311.76,327.72 L313.00,327.60 L314.29,327.47 L315.64,327.33 L317.04,327.18 L318.48,327.03 L319.96,326.87 L321.47,326.70 L323.02,326.53 L324.59,326.35 L326.18,326.17 L327.79,325.99 L329.41,325.80 L331.04,325.61 L332.67,325.43 L334.30,325.24 L335.93,325.05 L337.56,324.86 L339.19,324.67 L340.82,324.47 L342.45,324.27 L344.08,324.06 L345.72,323.85 L347.35,323.64 L348.98,323.41 L350.61,323.18 L352.24,322.94 L353.87,322.69 L355.50,322.43 L357.13,322.15 L358.77,321.87 L360.40,321.57 L362.03,321.26 L363.66,320.93 L365.29,320.58 L366.92,320.21 L368.55,319.82 L370.18,319.41 L371.81,318.97 L373.45,318.50 L375.08,318.00 L376.71,317.48 L378.34,316.91 L379.97,316.32 L381.60,315.69 L383.23,315.02 L384.87,314.31 L386.50,313.55 L388.14,312.76 L389.80,311.92 L391.47,311.03 L393.15,310.10 L394.86,309.11 L396.59,308.08 L398.34,306.99 L400.13,305.85 L401.95,304.65 L403.81,303.40 L405.71,302.09 L407.66,300.71 L409.65,299.28 L411.69,297.78 L413.80,296.21 L415.98,294.58 L418.26,292.90 L420.65,291.15 L423.17,289.34 L425.84,287.47 L428.67,285.55 L431.68,283.57 L434.89,281.54 L438.31,279.45 L441.96,277.31 L445.86,275.12 L450.02,272.88 L454.46,270.59 L459.20,268.25" stroke="#7186ff" stroke-width="1.1" fill="none" stroke-dasharray="2.8 2.4"/>
<path d="M281.40,328.40 L282.98,328.39 L284.46,328.38 L285.85,328.36 L287.15,328.32 L288.36,328.28 L289.50,328.24 L290.57,328.19 L291.58,328.13 L292.52,328.07 L293.41,328.01 L294.25,327.94 L295.05,327.88 L295.81,327.81 L296.53,327.74 L297.24,327.68 L297.92,327.62 L298.58,327.56 L299.24,327.50 L299.89,327.44 L300.55,327.37 L301.21,327.29 L301.88,327.20 L302.58,327.10 L303.30,326.99 L304.04,326.85 L304.83,326.70 L305.65,326.52 L306.52,326.32 L307.44,326.08 L308.42,325.82 L309.47,325.53 L310.58,325.19 L311.76,324.83 L313.00,324.43 L314.29,323.99 L315.64,323.52 L317.04,323.03 L318.48,322.50 L319.96,321.94 L321.47,321.36 L323.02,320.74 L324.59,320.10 L326.18,319.44 L327.79,318.75 L329.41,318.04 L331.04,317.31 L332.67,316.55 L334.30,315.78 L335.93,314.98 L337.56,314.16 L339.19,313.33 L340.82,312.47 L342.45,311.60 L344.08,310.70 L345.72,309.79 L347.35,308.85 L348.98,307.90 L350.61,306.93 L352.24,305.94 L353.87,304.93 L355.50,303.91 L357.13,302.86 L358.77,301.80 L360.40,300.72 L362.03,299.62 L363.66,298.51 L365.29,297.38 L366.92,296.24 L368.55,295.08 L370.18,293.91 L371.81,292.73 L373.45,291.54 L375.08,290.34 L376.71,289.14 L378.34,287.92 L379.97,286.69 L381.60,285.46 L383.23,284.23 L384.87,282.99 L386.50,281.74 L388.14,280.48 L389.80,279.20 L391.47,277.91 L393.15,276.60 L394.86,275.26 L396.59,273.90 L398.34,272.50 L400.13,271.08 L401.95,269.62 L403.81,268.12 L405.71,266.58 L407.66,265.00 L409.65,263.37 L411.69,261.68 L413.80,259.94 L415.98,258.12 L418.26,256.22 L420.65,254.21 L423.17,252.08 L425.84,249.83 L428.67,247.42 L431.68,244.86 L434.89,242.12 L438.31,239.20 L441.96,236.07 L445.86,232.72 L450.02,229.14 L454.46,225.32 L459.20,221.24" stroke="#f4a0f6" stroke-width="1.1" fill="none" stroke-dasharray="2.8 2.4"/>
<path d="M281.40,328.40 L282.98,328.38 L284.46,328.31 L285.85,328.20 L287.15,328.05 L288.36,327.87 L289.50,327.65 L290.57,327.40 L291.58,327.12 L292.52,326.81 L293.41,326.48 L294.25,326.13 L295.05,325.76 L295.81,325.38 L296.53,324.98 L297.24,324.57 L297.92,324.16 L298.58,323.73 L299.24,323.30 L299.89,322.85 L300.55,322.38 L301.21,321.89 L301.88,321.38 L302.58,320.84 L303.30,320.27 L304.04,319.67 L304.83,319.03 L305.65,318.36 L306.52,317.64 L307.44,316.87 L308.42,316.06 L309.47,315.19 L310.58,314.27 L311.76,313.30 L313.00,312.26 L314.29,311.16 L315.64,310.00 L317.04,308.78 L318.48,307.48 L319.96,306.12 L321.47,304.69 L323.02,303.18 L324.59,301.60 L326.18,299.94 L327.79,298.20 L329.41,296.38 L331.04,294.48 L332.67,292.49 L334.30,290.42 L335.93,288.26 L337.56,286.01 L339.19,283.67 L340.82,281.25 L342.45,278.75 L344.08,276.16 L345.72,273.48 L347.35,270.72 L348.98,267.87 L350.61,264.94 L352.24,261.92 L353.87,258.82 L355.50,255.63 L357.13,252.36 L358.77,249.00 L360.40,245.57 L362.03,242.06 L363.66,238.47 L365.29,234.82 L366.92,231.12 L368.55,227.35 L370.18,223.54 L371.81,219.68 L373.45,215.77 L375.08,211.84 L376.71,207.87 L378.34,203.88 L379.97,199.87 L381.60,195.84 L383.23,191.80 L384.87,187.75 L386.50,183.70 L388.14,179.63 L389.80,175.54 L391.47,171.43 L393.15,167.29 L394.86,163.13 L396.59,158.93 L398.34,154.70 L400.13,150.43 L401.95,146.11 L403.81,141.74 L405.71,137.33 L407.66,132.85 L409.65,128.32 L411.69,123.73 L413.80,119.08 L415.98,114.41 L418.26,109.73 L420.65,105.07 L423.17,100.45 L425.84,95.89 L428.67,91.42 L431.68,87.06 L434.89,82.83 L438.31,78.76 L441.96,74.86 L445.86,71.16 L450.02,67.69 L454.46,64.47 L459.20,61.51" stroke="#909090" stroke-width="1.2" fill="none"/>
<path d="M281.40,328.40 L282.98,328.37 L284.46,328.26 L285.85,328.10 L287.15,327.87 L288.36,327.57 L289.50,327.22 L290.57,326.80 L291.58,326.33 L292.52,325.80 L293.41,325.22 L294.25,324.58 L295.05,323.89 L295.81,323.15 L296.53,322.36 L297.24,321.53 L297.92,320.64 L298.58,319.71 L299.24,318.73 L299.89,317.68 L300.55,316.56 L301.21,315.37 L301.88,314.10 L302.58,312.74 L303.30,311.28 L304.04,309.72 L304.83,308.05 L305.65,306.27 L306.52,304.36 L307.44,302.33 L308.42,300.15 L309.47,297.84 L310.58,295.38 L311.76,292.76 L313.00,289.99 L314.29,287.07 L315.64,283.99 L317.04,280.75 L318.48,277.36 L319.96,273.80 L321.47,270.08 L323.02,266.20 L324.59,262.15 L326.18,257.93 L327.79,253.55 L329.41,249.00 L331.04,244.28 L332.67,239.38 L334.30,234.32 L335.93,229.11 L337.56,223.76 L339.19,218.31 L340.82,212.75 L342.45,207.11 L344.08,201.42 L345.72,195.68 L347.35,189.91 L348.98,184.14 L350.61,178.38 L352.24,172.64 L353.87,166.95 L355.50,161.33 L357.13,155.79 L358.77,150.34 L360.40,145.01 L362.03,139.80 L363.66,134.71 L365.29,129.76 L366.92,124.94 L368.55,120.28 L370.18,115.78 L371.81,111.44 L373.45,107.28 L375.08,103.30 L376.71,99.51 L378.34,95.92 L379.97,92.53 L381.60,89.36 L383.23,86.41 L384.87,83.69 L386.50,81.19 L388.14,78.91 L389.80,76.85 L391.47,75.00 L393.15,73.35 L394.86,71.92 L396.59,70.68 L398.34,69.63 L400.13,68.78 L401.95,68.12 L403.81,67.64 L405.71,67.34 L407.66,67.21 L409.65,67.26 L411.69,67.47 L413.80,67.84 L415.98,68.36 L418.26,69.02 L420.65,69.80 L423.17,70.69 L425.84,71.69 L428.67,72.78 L431.68,73.95 L434.89,75.19 L438.31,76.48 L441.96,77.82 L445.86,79.19 L450.02,80.59 L454.46,82.00 L459.20,83.41" stroke="#ff7a88" stroke-width="1.2" fill="none"/>
<path d="M281.40,328.40 L282.98,328.36 L284.46,328.22 L285.85,328.01 L287.15,327.72 L288.36,327.35 L289.50,326.91 L290.57,326.40 L291.58,325.82 L292.52,325.19 L293.41,324.50 L294.25,323.75 L295.05,322.95 L295.81,322.11 L296.53,321.23 L297.24,320.31 L297.92,319.35 L298.58,318.35 L299.24,317.30 L299.89,316.18 L300.55,314.98 L301.21,313.68 L301.88,312.28 L302.58,310.75 L303.30,309.08 L304.04,307.27 L304.83,305.29 L305.65,303.12 L306.52,300.77 L307.44,298.20 L308.42,295.42 L309.47,292.40 L310.58,289.13 L311.76,285.62 L313.00,281.88 L314.29,277.91 L315.64,273.73 L317.04,269.35 L318.48,264.77 L319.96,260.01 L321.47,255.07 L323.02,249.97 L324.59,244.72 L326.18,239.32 L327.79,233.79 L329.41,228.13 L331.04,222.36 L332.67,216.48 L334.30,210.51 L335.93,204.47 L337.56,198.38 L339.19,192.24 L340.82,186.09 L342.45,179.95 L344.08,173.82 L345.72,167.73 L347.35,161.70 L348.98,155.74 L350.61,149.88 L352.24,144.14 L353.87,138.52 L355.50,133.06 L357.13,127.77 L358.77,122.66 L360.40,117.75 L362.03,113.05 L363.66,108.55 L365.29,104.27 L366.92,100.20 L368.55,96.36 L370.18,92.74 L371.81,89.36 L373.45,86.22 L375.08,83.33 L376.71,80.68 L378.34,78.29 L379.97,76.15 L381.60,74.29 L383.23,72.69 L384.87,71.36 L386.50,70.29 L388.14,69.47 L389.80,68.88 L391.47,68.51 L393.15,68.35 L394.86,68.37 L396.59,68.58 L398.34,68.95 L400.13,69.47 L401.95,70.14 L403.81,70.92 L405.71,71.82 L407.66,72.82 L409.65,73.90 L411.69,75.05 L413.80,76.28 L415.98,77.59 L418.26,79.01 L420.65,80.54 L423.17,82.20 L425.84,83.99 L428.67,85.95 L431.68,88.07 L434.89,90.38 L438.31,92.88 L441.96,95.59 L445.86,98.53 L450.02,101.70 L454.46,105.13 L459.20,108.82" stroke="#ffb27a" stroke-width="1.2" fill="none"/>
<path d="M281.40,328.40 L282.98,328.34 L284.46,328.18 L285.85,327.92 L287.15,327.57 L288.36,327.12 L289.50,326.60 L290.57,325.99 L291.58,325.32 L292.52,324.58 L293.41,323.79 L294.25,322.94 L295.05,322.04 L295.81,321.10 L296.53,320.13 L297.24,319.13 L297.92,318.10 L298.58,317.05 L299.24,315.95 L299.89,314.78 L300.55,313.52 L301.21,312.16 L301.88,310.68 L302.58,309.05 L303.30,307.26 L304.04,305.29 L304.83,303.11 L305.65,300.71 L306.52,298.08 L307.44,295.18 L308.42,292.00 L309.47,288.53 L310.58,284.74 L311.76,280.65 L313.00,276.26 L314.29,271.61 L315.64,266.70 L317.04,261.55 L318.48,256.19 L319.96,250.62 L321.47,244.86 L323.02,238.93 L324.59,232.85 L326.18,226.64 L327.79,220.30 L329.41,213.87 L331.04,207.35 L332.67,200.76 L334.30,194.12 L335.93,187.46 L337.56,180.79 L339.19,174.14 L340.82,167.53 L342.45,160.98 L344.08,154.51 L345.72,148.16 L347.35,141.93 L348.98,135.85 L350.61,129.94 L352.24,124.23 L353.87,118.74 L355.50,113.48 L357.13,108.49 L358.77,103.78 L360.40,99.35 L362.03,95.21 L363.66,91.35 L365.29,87.77 L366.92,84.45 L368.55,81.40 L370.18,78.62 L371.81,76.09 L373.45,73.82 L375.08,71.80 L376.71,70.02 L378.34,68.49 L379.97,67.19 L381.60,66.13 L383.23,65.30 L384.87,64.69 L386.50,64.30 L388.14,64.11 L389.80,64.11 L391.47,64.30 L393.15,64.65 L394.86,65.17 L396.59,65.83 L398.34,66.63 L400.13,67.56 L401.95,68.61 L403.81,69.76 L405.71,71.00 L407.66,72.33 L409.65,73.74 L411.69,75.21 L413.80,76.73 L415.98,78.31 L418.26,79.96 L420.65,81.67 L423.17,83.43 L425.84,85.26 L428.67,87.16 L431.68,89.12 L434.89,91.14 L438.31,93.24 L441.96,95.39 L445.86,97.62 L450.02,99.92 L454.46,102.29 L459.20,104.73" stroke="#7186ff" stroke-width="1.2" fill="none"/>
<path d="M281.40,328.40 L282.98,277.07 L284.46,232.28 L285.85,193.56 L287.15,160.48 L288.36,132.58 L289.50,109.44 L290.57,90.59 L291.58,75.59 L292.52,64.00 L293.41,55.37 L294.25,49.26 L295.05,45.22 L295.81,42.80 L296.53,41.56 L297.24,41.06 L297.92,40.84 L298.58,40.68 L299.24,40.54 L299.89,40.44 L300.55,40.37 L301.21,40.34 L301.88,40.34 L302.58,40.37 L303.30,40.43 L304.04,40.53 L304.83,40.66 L305.65,40.82 L306.52,41.01 L307.44,41.24 L308.42,41.51 L309.47,41.81 L310.58,42.14 L311.76,42.50 L313.00,42.90 L314.29,43.32 L315.64,43.78 L317.04,44.27 L318.48,44.79 L319.96,45.34 L321.47,45.92 L323.02,46.52 L324.59,47.15 L326.18,47.81 L327.79,48.49 L329.41,49.20 L331.04,49.93 L332.67,50.68 L334.30,51.46 L335.93,52.26 L337.56,53.08 L339.19,53.92 L340.82,54.79 L342.45,55.67 L344.08,56.57 L345.72,57.49 L347.35,58.43 L348.98,59.39 L350.61,60.36 L352.24,61.35 L353.87,62.36 L355.50,63.39 L357.13,64.42 L358.77,65.48 L360.40,66.55 L362.03,67.63 L363.66,68.72 L365.29,69.83 L366.92,70.95 L368.55,72.08 L370.18,73.22 L371.81,74.37 L373.45,75.54 L375.08,76.71 L376.71,77.89 L378.34,79.08 L379.97,80.29 L381.60,81.49 L383.23,82.71 L384.87,83.93 L386.50,85.17 L388.14,86.42 L389.80,87.68 L391.47,88.97 L393.15,90.27 L394.86,91.61 L396.59,92.97 L398.34,94.36 L400.13,95.79 L401.95,97.25 L403.81,98.76 L405.71,100.31 L407.66,101.90 L409.65,103.55 L411.69,105.24 L413.80,107.00 L415.98,108.84 L418.26,110.76 L420.65,112.80 L423.17,114.96 L425.84,117.25 L428.67,119.69 L431.68,122.30 L434.89,125.09 L438.31,128.08 L441.96,131.28 L445.86,134.71 L450.02,138.37 L454.46,142.29 L459.20,146.48" stroke="#f4a0f6" stroke-width="1.2" fill="none"/>
<rect x="279.15" y="326.15" width="4.50" height="4.50" fill="#5e5e5e"/>
<rect x="287.62" y="326.15" width="4.50" height="4.50" fill="#5e5e5e"/>
<rect x="296.08" y="326.15" width="4.50" height="4.50" fill="#5e5e5e"/>
<rect x="304.55" y="326.15" width="4.50" height="4.50" fill="#5e5e5e"/>
<rect x="329.95" y="325.86" width="4.50" height="4.50" fill="#5e5e5e"/>
<rect x="355.35" y="326.15" width="4.50" height="4.50" fill="#5e5e5e"/>
<rect x="380.75" y="324.98" width="4.50" height="4.50" fill="#5e5e5e"/>
<rect x="406.15" y="323.23" width="4.50" height="4.50" fill="#5e5e5e"/>
<rect x="431.55" y="320.02" width="4.50" height="4.50" fill="#5e5e5e"/>
<rect x="456.95" y="315.05" width="4.50" height="4.50" fill="#5e5e5e"/>
<rect x="279.15" y="326.15" width="4.50" height="4.50" fill="#5e5e5e"/>
<rect x="287.62" y="326.15" width="4.50" height="4.50" fill="#5e5e5e"/>
<rect x="296.08" y="322.35" width="4.50" height="4.50" fill="#5e5e5e"/>
<rect x="304.55" y="315.05" width="4.50" height="4.50" fill="#5e5e5e"/>
<rect x="329.95" y="294.32" width="4.50" height="4.50" fill="#5e5e5e"/>
<rect x="355.35" y="252.57" width="4.50" height="4.50" fill="#5e5e5e"/>
<rect x="380.75" y="190.37" width="4.50" height="4.50" fill="#5e5e5e"/>
<rect x="406.15" y="126.71" width="4.50" height="4.50" fill="#5e5e5e"/>
<rect x="431.55" y="73.86" width="4.50" height="4.50" fill="#5e5e5e"/>
<rect x="456.95" y="59.26" width="4.50" height="4.50" fill="#5e5e5e"/>
<circle cx="281.40" cy="328.40" r="2.70" fill="#ff3b48"/>
<circle cx="289.87" cy="328.40" r="2.70" fill="#ff3b48"/>
<circle cx="298.33" cy="328.40" r="2.70" fill="#ff3b48"/>
<circle cx="306.80" cy="328.40" r="2.70" fill="#ff3b48"/>
<circle cx="332.20" cy="327.82" r="2.70" fill="#ff3b48"/>
<circle cx="357.60" cy="325.48" r="2.70" fill="#ff3b48"/>
<circle cx="383.00" cy="322.85" r="2.70" fill="#ff3b48"/>
<circle cx="408.40" cy="314.09" r="2.70" fill="#ff3b48"/>
<circle cx="433.80" cy="299.49" r="2.70" fill="#ff3b48"/>
<circle cx="459.20" cy="290.44" r="2.70" fill="#ff3b48"/>
<circle cx="281.40" cy="328.40" r="2.70" fill="#ff3b48"/>
<circle cx="289.87" cy="328.40" r="2.70" fill="#ff3b48"/>
<circle cx="298.33" cy="322.85" r="2.70" fill="#ff3b48"/>
<circle cx="306.80" cy="303.58" r="2.70" fill="#ff3b48"/>
<circle cx="332.20" cy="247.81" r="2.70" fill="#ff3b48"/>
<circle cx="357.60" cy="149.99" r="2.70" fill="#ff3b48"/>
<circle cx="383.00" cy="77.57" r="2.70" fill="#ff3b48"/>
<circle cx="408.40" cy="60.64" r="2.70" fill="#ff3b48"/>
<circle cx="433.80" cy="76.11" r="2.70" fill="#ff3b48"/>
<circle cx="459.20" cy="83.41" r="2.70" fill="#ff3b48"/>
<path d="M281.40,326.00 L284.20,330.56 L278.60,330.56Z" fill="#f7872e"/>
<path d="M289.87,326.00 L292.67,330.56 L287.07,330.56Z" fill="#f7872e"/>
<path d="M298.33,326.00 L301.13,330.56 L295.53,330.56Z" fill="#f7872e"/>
<path d="M306.80,326.00 L309.60,330.56 L304.00,330.56Z" fill="#f7872e"/>
<path d="M332.20,324.54 L335.00,329.10 L329.40,329.10Z" fill="#f7872e"/>
<path d="M357.60,321.62 L360.40,326.18 L354.80,326.18Z" fill="#f7872e"/>
<path d="M383.00,316.07 L385.80,320.63 L380.20,320.63Z" fill="#f7872e"/>
<path d="M408.40,300.89 L411.20,305.45 L405.60,305.45Z" fill="#f7872e"/>
<path d="M433.80,281.91 L436.60,286.47 L431.00,286.47Z" fill="#f7872e"/>
<path d="M459.20,261.47 L462.00,266.03 L456.40,266.03Z" fill="#f7872e"/>
<path d="M281.40,326.00 L284.20,330.56 L278.60,330.56Z" fill="#f7872e"/>
<path d="M289.87,326.00 L292.67,330.56 L287.07,330.56Z" fill="#f7872e"/>
<path d="M298.33,318.70 L301.13,323.26 L295.53,323.26Z" fill="#f7872e"/>
<path d="M306.80,299.72 L309.60,304.28 L304.00,304.28Z" fill="#f7872e"/>
<path d="M332.20,219.71 L335.00,224.27 L329.40,224.27Z" fill="#f7872e"/>
<path d="M357.60,116.05 L360.40,120.61 L354.80,120.61Z" fill="#f7872e"/>
<path d="M383.00,59.40 L385.80,63.96 L380.20,63.96Z" fill="#f7872e"/>
<path d="M408.40,69.33 L411.20,73.89 L405.60,73.89Z" fill="#f7872e"/>
<path d="M433.80,86.56 L436.60,91.12 L431.00,91.12Z" fill="#f7872e"/>
<path d="M459.20,106.42 L462.00,110.98 L456.40,110.98Z" fill="#f7872e"/>
<path d="M281.40,330.80 L284.20,326.24 L278.60,326.24Z" fill="#2a40fa"/>
<path d="M289.87,330.80 L292.67,326.24 L287.07,326.24Z" fill="#2a40fa"/>
<path d="M298.33,330.80 L301.13,326.24 L295.53,326.24Z" fill="#2a40fa"/>
<path d="M306.80,330.80 L309.60,326.24 L304.00,326.24Z" fill="#2a40fa"/>
<path d="M332.20,327.88 L335.00,323.32 L329.40,323.32Z" fill="#2a40fa"/>
<path d="M357.60,324.96 L360.40,320.40 L354.80,320.40Z" fill="#2a40fa"/>
<path d="M383.00,319.12 L385.80,314.56 L380.20,314.56Z" fill="#2a40fa"/>
<path d="M408.40,303.64 L411.20,299.08 L405.60,299.08Z" fill="#2a40fa"/>
<path d="M433.80,282.91 L436.60,278.35 L431.00,278.35Z" fill="#2a40fa"/>
<path d="M459.20,270.65 L462.00,266.09 L456.40,266.09Z" fill="#2a40fa"/>
<path d="M281.40,330.80 L284.20,326.24 L278.60,326.24Z" fill="#2a40fa"/>
<path d="M289.87,330.80 L292.67,326.24 L287.07,326.24Z" fill="#2a40fa"/>
<path d="M298.33,321.75 L301.13,317.19 L295.53,317.19Z" fill="#2a40fa"/>
<path d="M306.80,303.35 L309.60,298.79 L304.00,298.79Z" fill="#2a40fa"/>
<path d="M332.20,207.28 L335.00,202.72 L329.40,202.72Z" fill="#2a40fa"/>
<path d="M357.60,97.78 L360.40,93.22 L354.80,93.22Z" fill="#2a40fa"/>
<path d="M383.00,58.66 L385.80,54.10 L380.20,54.10Z" fill="#2a40fa"/>
<path d="M408.40,74.42 L411.20,69.86 L405.60,69.86Z" fill="#2a40fa"/>
<path d="M433.80,94.28 L436.60,89.72 L431.00,89.72Z" fill="#2a40fa"/>
<path d="M459.20,107.13 L462.00,102.57 L456.40,102.57Z" fill="#2a40fa"/>
<polygon points="281.40,325.70 282.08,327.47 283.97,327.57 282.49,328.76 282.99,330.58 281.40,329.55 279.81,330.58 280.31,328.76 278.83,327.57 280.72,327.47" fill="#e468f0"/>
<polygon points="289.87,325.70 290.54,327.47 292.43,327.57 290.96,328.76 291.45,330.58 289.87,329.55 288.28,330.58 288.77,328.76 287.30,327.57 289.19,327.47" fill="#e468f0"/>
<polygon points="298.33,324.82 299.01,326.59 300.90,326.69 299.43,327.88 299.92,329.71 298.33,328.67 296.75,329.71 297.24,327.88 295.77,326.69 297.66,326.59" fill="#e468f0"/>
<polygon points="306.80,324.24 307.48,326.01 309.37,326.11 307.89,327.30 308.39,329.12 306.80,328.09 305.21,329.12 305.71,327.30 304.23,326.11 306.12,326.01" fill="#e468f0"/>
<polygon points="332.20,314.90 332.88,316.67 334.77,316.76 333.29,317.95 333.79,319.78 332.20,318.75 330.61,319.78 331.11,317.95 329.63,316.76 331.52,316.67" fill="#e468f0"/>
<polygon points="357.60,300.59 358.28,302.36 360.17,302.45 358.69,303.64 359.19,305.47 357.60,304.44 356.01,305.47 356.51,303.64 355.03,302.45 356.92,302.36" fill="#e468f0"/>
<polygon points="383.00,281.90 383.68,283.67 385.57,283.77 384.09,284.96 384.59,286.78 383.00,285.75 381.41,286.78 381.91,284.96 380.43,283.77 382.32,283.67" fill="#e468f0"/>
<polygon points="408.40,262.04 409.08,263.81 410.97,263.91 409.49,265.10 409.99,266.93 408.40,265.89 406.81,266.93 407.31,265.10 405.83,263.91 407.72,263.81" fill="#e468f0"/>
<polygon points="433.80,240.44 434.48,242.21 436.37,242.30 434.89,243.49 435.39,245.32 433.80,244.29 432.21,245.32 432.71,243.49 431.23,242.30 433.12,242.21" fill="#e468f0"/>
<polygon points="459.20,218.54 459.88,220.31 461.77,220.40 460.29,221.59 460.79,223.42 459.20,222.39 457.61,223.42 458.11,221.59 456.63,220.40 458.52,220.31" fill="#e468f0"/>
<polygon points="281.40,325.70 282.08,327.47 283.97,327.57 282.49,328.76 282.99,330.58 281.40,329.55 279.81,330.58 280.31,328.76 278.83,327.57 280.72,327.47" fill="#e468f0"/>
<polygon points="289.87,41.58 290.54,43.35 292.43,43.45 290.96,44.64 291.45,46.47 289.87,45.43 288.28,46.47 288.77,44.64 287.30,43.45 289.19,43.35" fill="#e468f0"/>
<polygon points="298.33,36.91 299.01,38.68 300.90,38.78 299.43,39.97 299.92,41.80 298.33,40.76 296.75,41.80 297.24,39.97 295.77,38.78 297.66,38.68" fill="#e468f0"/>
<polygon points="306.80,37.79 307.48,39.56 309.37,39.65 307.89,40.84 308.39,42.67 306.80,41.64 305.21,42.67 305.71,40.84 304.23,39.65 306.12,39.56" fill="#e468f0"/>
<polygon points="332.20,46.84 332.88,48.61 334.77,48.71 333.29,49.90 333.79,51.72 332.20,50.69 330.61,51.72 331.11,49.90 329.63,48.71 331.52,48.61" fill="#e468f0"/>
<polygon points="357.60,61.44 358.28,63.21 360.17,63.31 358.69,64.50 359.19,66.32 357.60,65.29 356.01,66.32 356.51,64.50 355.03,63.31 356.92,63.21" fill="#e468f0"/>
<polygon points="383.00,79.54 383.68,81.31 385.57,81.41 384.09,82.60 384.59,84.43 383.00,83.39 381.41,84.43 381.91,82.60 380.43,81.41 382.32,81.31" fill="#e468f0"/>
<polygon points="408.40,99.40 409.08,101.17 410.97,101.27 409.49,102.46 409.99,104.28 408.40,103.25 406.81,104.28 407.31,102.46 405.83,101.27 407.72,101.17" fill="#e468f0"/>
<polygon points="433.80,121.30 434.48,123.07 436.37,123.17 434.89,124.36 435.39,126.18 433.80,125.15 432.21,126.18 432.71,124.36 431.23,123.17 433.12,123.07" fill="#e468f0"/>
<polygon points="459.20,143.78 459.88,145.55 461.77,145.65 460.29,146.84 460.79,148.67 459.20,147.63 457.61,148.67 458.11,146.84 456.63,145.65 458.52,145.55" fill="#e468f0"/>
<text x="463.90" y="65.00" fill="#505050" stroke="#505050" stroke-width="0.25" font-size="11"><tspan dy="0">Cu</tspan><tspan font-size="7.4" dy="3.2">100</tspan></text>
<text x="463.90" y="87.90" fill="#ff3b48" stroke="#ff3b48" stroke-width="0.25" font-size="11"><tspan dy="0">Pd</tspan><tspan font-size="7.4" dy="3.2">1</tspan><tspan dy="-3.2">Cu</tspan><tspan font-size="7.4" dy="3.2">234</tspan></text>
<text x="463.90" y="107.20" fill="#3c5af0" stroke="#3c5af0" stroke-width="0.25" font-size="11"><tspan dy="0">Pd</tspan><tspan font-size="7.4" dy="3.2">1</tspan><tspan dy="-3.2">Cu</tspan><tspan font-size="7.4" dy="3.2">53</tspan></text>
<text x="463.90" y="124.80" fill="#f58c46" stroke="#f58c46" stroke-width="0.25" font-size="11"><tspan dy="0">Pd</tspan><tspan font-size="7.4" dy="3.2">1</tspan><tspan dy="-3.2">Cu</tspan><tspan font-size="7.4" dy="3.2">216</tspan></text>
<text x="463.90" y="157.20" fill="#e066ea" stroke="#e066ea" stroke-width="0.25" font-size="11"><tspan dy="0">Pd</tspan><tspan font-size="7.4" dy="3.2">100</tspan></text>
<text x="464.40" y="225.60" fill="#e066ea" stroke="#e066ea" stroke-width="0.25" font-size="11"><tspan dy="0">Pd</tspan><tspan font-size="7.4" dy="3.2">100</tspan></text>
<text x="464.40" y="259.70" fill="#f58c46" stroke="#f58c46" stroke-width="0.25" font-size="11"><tspan dy="0">Pd</tspan><tspan font-size="7.4" dy="3.2">1</tspan><tspan dy="-3.2">Cu</tspan><tspan font-size="7.4" dy="3.2">216</tspan></text>
<text x="464.40" y="277.20" fill="#3c5af0" stroke="#3c5af0" stroke-width="0.25" font-size="11"><tspan dy="0">Pd</tspan><tspan font-size="7.4" dy="3.2">1</tspan><tspan dy="-3.2">Cu</tspan><tspan font-size="7.4" dy="3.2">53</tspan></text>
<text x="464.40" y="294.70" fill="#ff3b48" stroke="#ff3b48" stroke-width="0.25" font-size="11"><tspan dy="0">Pd</tspan><tspan font-size="7.4" dy="3.2">1</tspan><tspan dy="-3.2">Cu</tspan><tspan font-size="7.4" dy="3.2">234</tspan></text>
<text x="464.40" y="320.30" fill="#505050" stroke="#505050" stroke-width="0.25" font-size="11"><tspan dy="0">Cu</tspan><tspan font-size="7.4" dy="3.2">100</tspan></text>
<text x="29.0" y="16.9" font-size="15.3" fill="#111">(a)</text>
<text x="259.0" y="16.9" font-size="15.3" fill="#111">(b)</text>
<text x="313.0" y="30.2" font-size="9" fill="#111">Solid lines = Butanal</text>
<text x="404.6" y="30.7" font-size="9" fill="#111">Dashed lines = Butanol</text>
<text x="143.8" y="374.1" font-size="10.8" fill="#111" text-anchor="middle">Time (h)</text>
<text x="371.0" y="374.1" font-size="10.8" fill="#111" text-anchor="middle">Time (h)</text>
<text transform="translate(15.0,182) rotate(-90)" font-size="10.9" fill="#111" text-anchor="middle">Conversion (%)</text>
<text transform="translate(242.7,182) rotate(-90)" font-size="10.9" fill="#111" text-anchor="middle">Yield (%)</text>
<path d="M513,47.5V169" stroke="#555" stroke-width="1"/>
<path d="M510.8,167.5L513,174.5L515.2,167.5Z" fill="#555"/>
<path d="M512.4,329.5V208" stroke="#555" stroke-width="1" stroke-dasharray="2.7 4.2"/>
<path d="M510.2,209.5L512.4,202.8L514.6,209.5Z" fill="#555"/>
<text transform="translate(529.6,124.1) rotate(-90)" font-size="9.9" fill="#444" text-anchor="middle">Decreasing butanal</text>
<text transform="translate(541.6,122.3) rotate(-90)" font-size="9.9" fill="#444" text-anchor="middle">yield</text>
<text transform="translate(526.2,256.7) rotate(-90)" font-size="9.9" fill="#444" text-anchor="middle">Increasing butanol</text>
<text transform="translate(537.8,257.5) rotate(-90)" font-size="9.9" fill="#444" text-anchor="middle">formation</text>
</svg>
</body></html>
